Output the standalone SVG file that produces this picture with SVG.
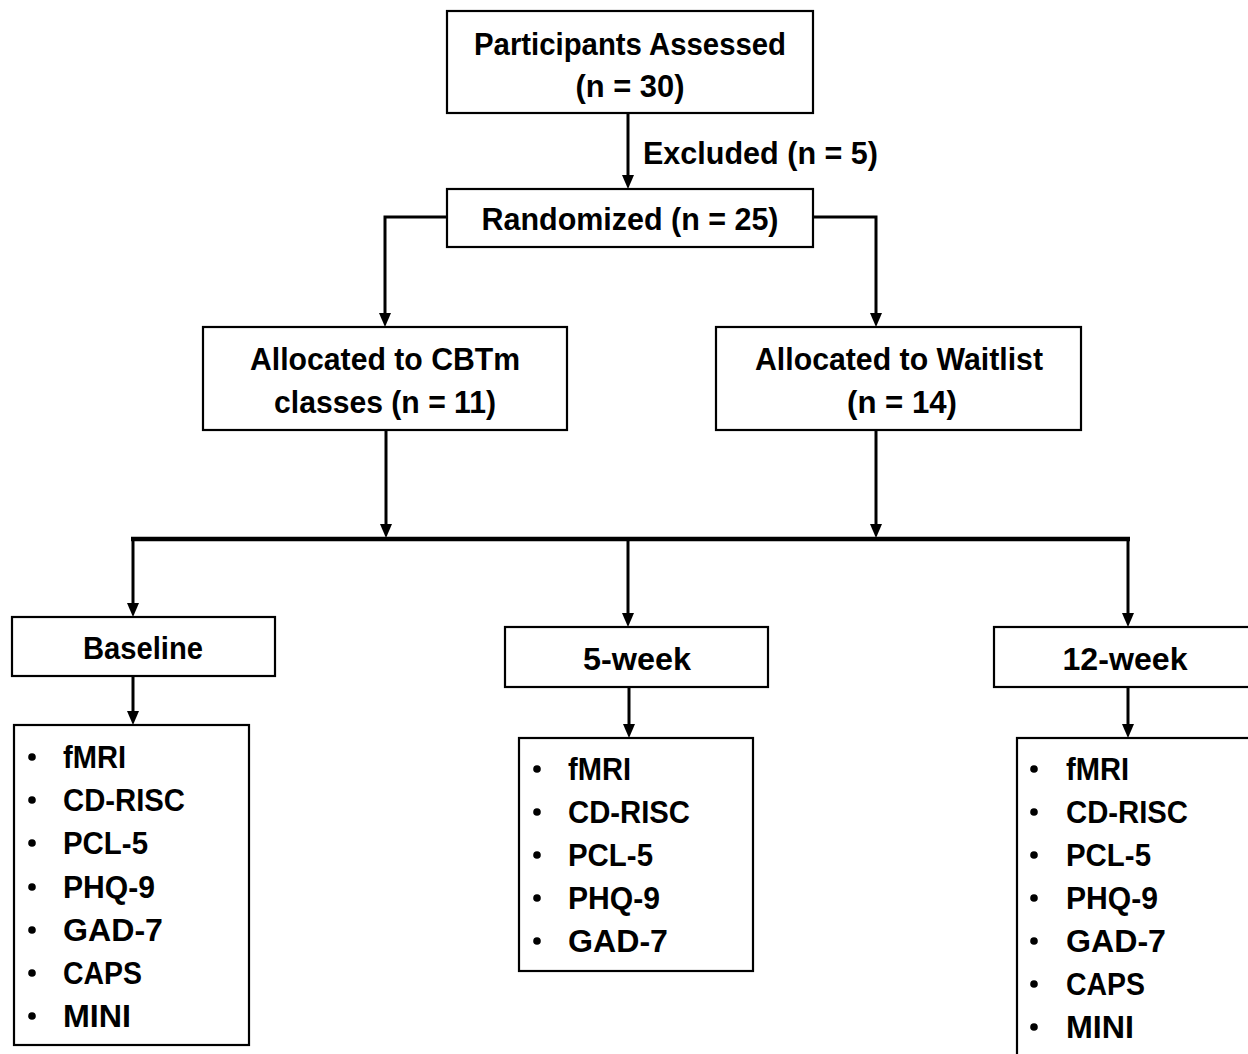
<svg xmlns="http://www.w3.org/2000/svg" width="1248" height="1054" viewBox="0 0 1248 1054">
<style>
.box{fill:#fff;stroke:#000;stroke-width:2.2}
.t{font-family:"Liberation Sans",Arial,sans-serif;font-weight:bold;font-size:32px;fill:#000}
.c{text-anchor:middle}
.ln{fill:none;stroke:#000;stroke-width:3}
.bul{fill:#000}
</style>
<defs>
<path id="arrowhead" d="M-6,-14 L6,-14 L0,0 Z" fill="#000"/>
</defs>
<rect width="1248" height="1054" fill="#fff"/>
<g id="connectors">
<line class="ln" x1="628" y1="113" x2="628" y2="180"/>
<polyline class="ln" points="447,217 385,217 385,318"/>
<polyline class="ln" points="813,217 876,217 876,318"/>
<line class="ln" x1="386" y1="430" x2="386" y2="530"/>
<line class="ln" x1="876" y1="430" x2="876" y2="530"/>
<line x1="131" y1="539" x2="1130" y2="539" stroke="#000" stroke-width="4.5"/>
<line class="ln" x1="133" y1="539" x2="133" y2="608"/>
<line class="ln" x1="628" y1="539" x2="628" y2="618"/>
<line class="ln" x1="1128" y1="539" x2="1128" y2="618"/>
<line class="ln" x1="133" y1="676" x2="133" y2="716"/>
<line class="ln" x1="629" y1="687" x2="629" y2="729"/>
<line class="ln" x1="1128" y1="687" x2="1128" y2="729"/>
<use href="#arrowhead" x="628" y="189"/>
<use href="#arrowhead" x="385" y="327"/>
<use href="#arrowhead" x="876" y="327"/>
<use href="#arrowhead" x="386" y="538"/>
<use href="#arrowhead" x="876" y="538"/>
<use href="#arrowhead" x="133" y="617"/>
<use href="#arrowhead" x="628" y="627"/>
<use href="#arrowhead" x="1128" y="627"/>
<use href="#arrowhead" x="133" y="725"/>
<use href="#arrowhead" x="629" y="738"/>
<use href="#arrowhead" x="1128" y="738"/>
</g>
<g id="assessed">
<rect class="box" x="447" y="11" width="366" height="102"/>
<text class="t c" x="630" y="55" textLength="312" lengthAdjust="spacingAndGlyphs">Participants Assessed</text>
<text class="t c" x="630" y="97" textLength="109" lengthAdjust="spacingAndGlyphs">(n = 30)</text>
</g>
<g id="excluded">
<text class="t" x="643" y="164" textLength="235" lengthAdjust="spacingAndGlyphs">Excluded (n = 5)</text>
</g>
<g id="randomized">
<rect class="box" x="447" y="189" width="366" height="58"/>
<text class="t c" x="630" y="230" textLength="297" lengthAdjust="spacingAndGlyphs">Randomized (n = 25)</text>
</g>
<g id="cbtm">
<rect class="box" x="203" y="327" width="364" height="103"/>
<text class="t c" x="385" y="370" textLength="270" lengthAdjust="spacingAndGlyphs">Allocated to CBTm</text>
<text class="t c" x="385" y="413" textLength="222" lengthAdjust="spacingAndGlyphs">classes (n = 11)</text>
</g>
<g id="waitlist">
<rect class="box" x="716" y="327" width="365" height="103"/>
<text class="t c" x="899" y="370" textLength="288" lengthAdjust="spacingAndGlyphs">Allocated to Waitlist</text>
<text class="t c" x="902" y="413" textLength="110" lengthAdjust="spacingAndGlyphs">(n = 14)</text>
</g>
<g id="baseline">
<rect class="box" x="12" y="617" width="263" height="59"/>
<text class="t c" x="143" y="659" textLength="120" lengthAdjust="spacingAndGlyphs">Baseline</text>
</g>
<g id="week5">
<rect class="box" x="505" y="627" width="263" height="60"/>
<text class="t c" x="637" y="670" textLength="108" lengthAdjust="spacingAndGlyphs">5-week</text>
</g>
<g id="week12">
<rect class="box" x="994" y="627" width="263" height="60"/>
<text class="t c" x="1125" y="670" textLength="125" lengthAdjust="spacingAndGlyphs">12-week</text>
</g>
<g id="baseline-list">
<rect class="box" x="14" y="725" width="235" height="320"/>
<g class="bul"><circle cx="32" cy="757" r="3.8"/><circle cx="32" cy="800" r="3.8"/><circle cx="32" cy="843" r="3.8"/><circle cx="32" cy="887" r="3.8"/><circle cx="32" cy="930" r="3.8"/><circle cx="32" cy="973" r="3.8"/><circle cx="32" cy="1016" r="3.8"/></g>
<text class="t" x="63" y="768" textLength="63" lengthAdjust="spacingAndGlyphs">fMRI</text>
<text class="t" x="63" y="811" textLength="122" lengthAdjust="spacingAndGlyphs">CD-RISC</text>
<text class="t" x="63" y="854" textLength="85" lengthAdjust="spacingAndGlyphs">PCL-5</text>
<text class="t" x="63" y="898" textLength="92" lengthAdjust="spacingAndGlyphs">PHQ-9</text>
<text class="t" x="63" y="941" textLength="100" lengthAdjust="spacingAndGlyphs">GAD-7</text>
<text class="t" x="63" y="984" textLength="79" lengthAdjust="spacingAndGlyphs">CAPS</text>
<text class="t" x="63" y="1027" textLength="68" lengthAdjust="spacingAndGlyphs">MINI</text>
</g>
<g id="week5-list">
<rect class="box" x="519" y="738" width="234" height="233"/>
<g class="bul"><circle cx="537" cy="769" r="3.8"/><circle cx="537" cy="812" r="3.8"/><circle cx="537" cy="855" r="3.8"/><circle cx="537" cy="898" r="3.8"/><circle cx="537" cy="941" r="3.8"/></g>
<text class="t" x="568" y="780" textLength="63" lengthAdjust="spacingAndGlyphs">fMRI</text>
<text class="t" x="568" y="823" textLength="122" lengthAdjust="spacingAndGlyphs">CD-RISC</text>
<text class="t" x="568" y="866" textLength="85" lengthAdjust="spacingAndGlyphs">PCL-5</text>
<text class="t" x="568" y="909" textLength="92" lengthAdjust="spacingAndGlyphs">PHQ-9</text>
<text class="t" x="568" y="952" textLength="100" lengthAdjust="spacingAndGlyphs">GAD-7</text>
</g>
<g id="week12-list">
<rect class="box" x="1017" y="738" width="260" height="340"/>
<g class="bul"><circle cx="1034" cy="769" r="3.8"/><circle cx="1034" cy="812" r="3.8"/><circle cx="1034" cy="855" r="3.8"/><circle cx="1034" cy="898" r="3.8"/><circle cx="1034" cy="941" r="3.8"/><circle cx="1034" cy="984" r="3.8"/><circle cx="1034" cy="1027" r="3.8"/></g>
<text class="t" x="1066" y="780" textLength="63" lengthAdjust="spacingAndGlyphs">fMRI</text>
<text class="t" x="1066" y="823" textLength="122" lengthAdjust="spacingAndGlyphs">CD-RISC</text>
<text class="t" x="1066" y="866" textLength="85" lengthAdjust="spacingAndGlyphs">PCL-5</text>
<text class="t" x="1066" y="909" textLength="92" lengthAdjust="spacingAndGlyphs">PHQ-9</text>
<text class="t" x="1066" y="952" textLength="100" lengthAdjust="spacingAndGlyphs">GAD-7</text>
<text class="t" x="1066" y="995" textLength="79" lengthAdjust="spacingAndGlyphs">CAPS</text>
<text class="t" x="1066" y="1038" textLength="68" lengthAdjust="spacingAndGlyphs">MINI</text>
</g>
</svg>
